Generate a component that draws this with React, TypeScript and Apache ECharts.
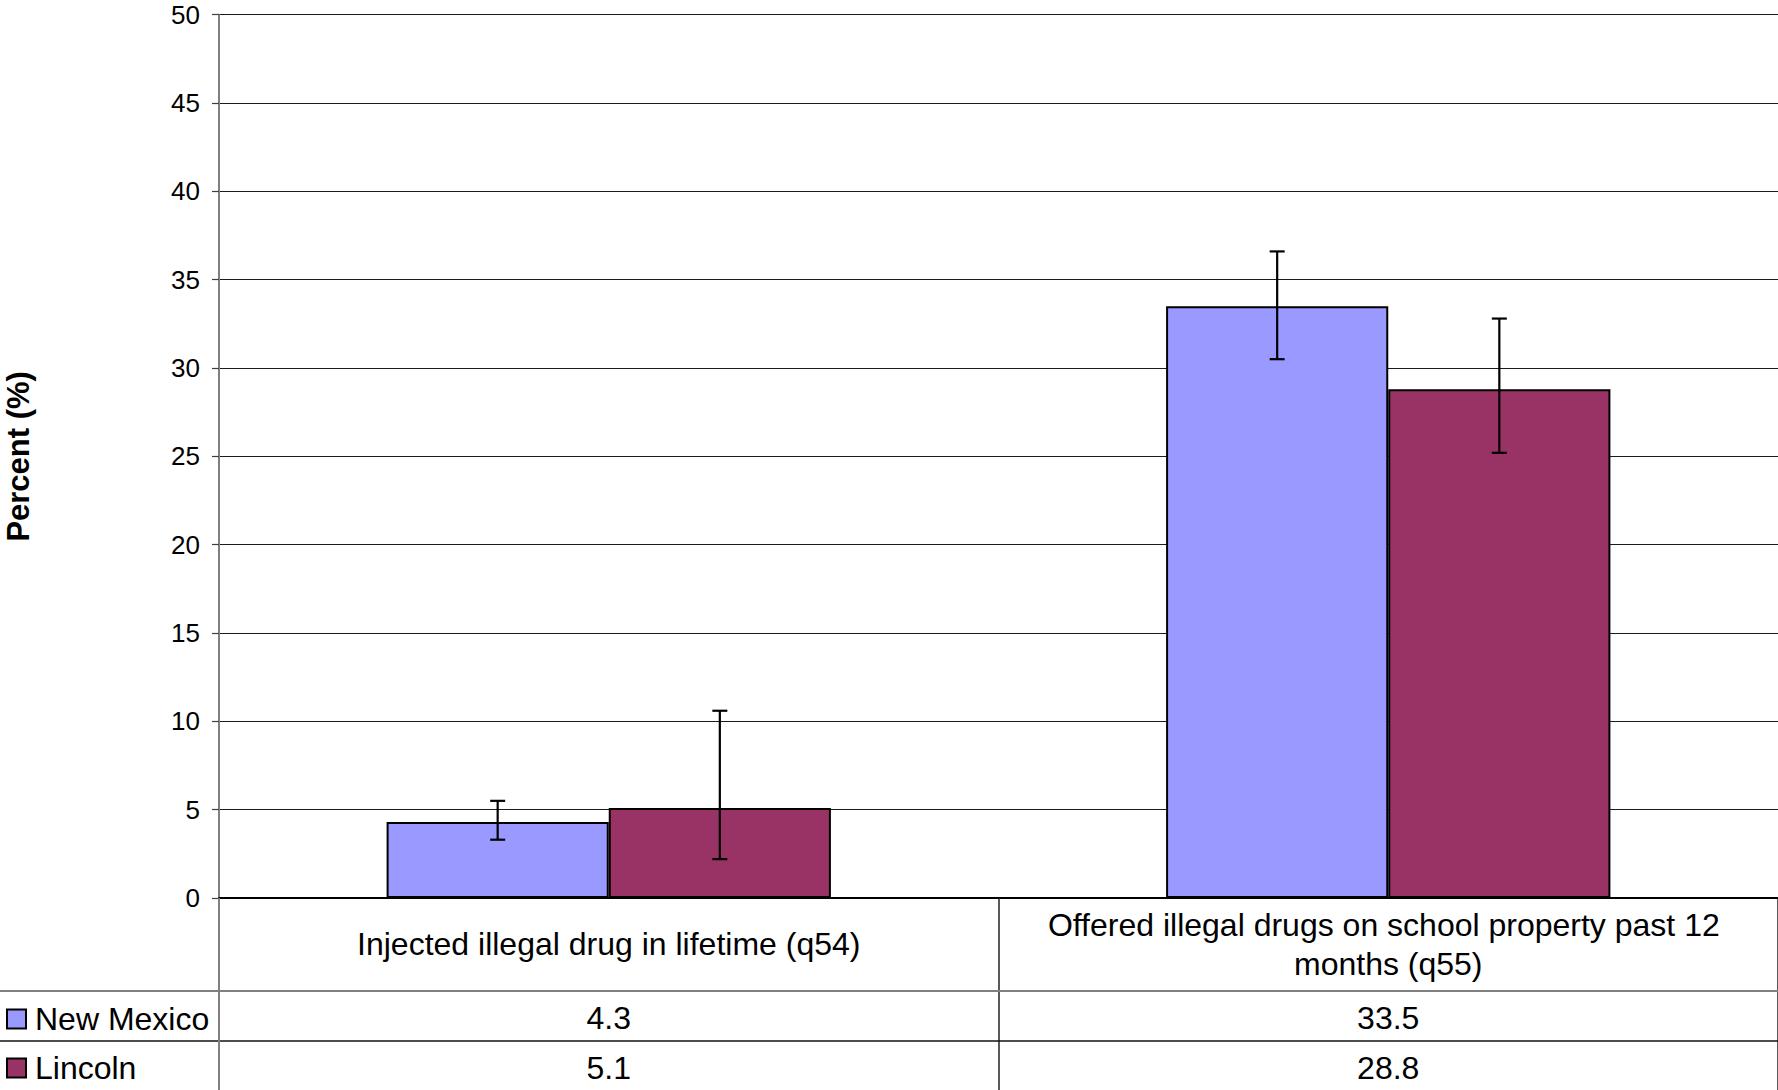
import React, { useEffect, useRef } from "react";
import * as echarts from "echarts";

const categories = [
  "Injected illegal drug in lifetime (q54)",
  "Offered illegal drugs on school property past 12 months (q55)",
];
const seriesNames = ["New Mexico", "Lincoln"];
const newMexico = [4.3, 33.5];
const lincoln = [5.1, 28.8];
const newMexicoLow = [3.3, 30.5];
const newMexicoHigh = [5.5, 36.6];
const lincolnLow = [2.2, 25.2];
const lincolnHigh = [10.6, 32.8];
const yTicks = { min: 0, max: 50, interval: 5 };

const W = 1778;
const H = 1090;
const GRID_LEFT = 219;
const GRID_TOP = 14.7;
const GRID_BOTTOM = 192; // axis at y = 898
const AXIS_Y = H - GRID_BOTTOM;
const FONT = "'Liberation Sans', Arial, sans-serif";
const TABLE_FONT = 32;
const BAR_FRAC = 0.285;

function errorSeries(name: string, lows: number[], highs: number[], sign: number) {
  return {
    type: "custom",
    name: name + " CI",
    z: 10,
    data: lows.map((lo, i) => [i, lo, highs[i]]),
    encode: { x: 0, y: [1, 2] },
    renderItem: (params: any, api: any) => {
      const xi = api.value(0);
      const lo = api.value(1);
      const hi = api.value(2);
      const catW = api.size([1, 0])[0];
      const cx = api.coord([xi, 0])[0] + (sign * catW * BAR_FRAC) / 2;
      const yLo = api.coord([xi, lo])[1];
      const yHi = api.coord([xi, hi])[1];
      const cap = 7.5;
      const style = { stroke: "#000", lineWidth: 2.2 };
      return {
        type: "group",
        children: [
          { type: "line", shape: { x1: cx, y1: yLo, x2: cx, y2: yHi }, style },
          { type: "line", shape: { x1: cx - cap, y1: yHi, x2: cx + cap, y2: yHi }, style },
          { type: "line", shape: { x1: cx - cap, y1: yLo, x2: cx + cap, y2: yLo }, style },
        ],
      };
    },
  };
}

export default function App() {
  const ref = useRef<HTMLDivElement>(null);
  useEffect(() => {
    if (!ref.current) return;
    const chart = echarts.init(ref.current, null, { renderer: "svg" });
    const valueAxis = (data: number[], offset: number) => ({
      type: "category",
      data: data.map((v) => v.toFixed(1)),
      position: "bottom",
      offset,
      axisLine: { show: false },
      axisTick: { show: false },
      axisLabel: {
        interval: 0,
        hideOverlap: false,
        margin: 0,
        verticalAlign: "middle",
        fontSize: TABLE_FONT,
        fontFamily: FONT,
        color: "#000",
      },
    });
    const legendBase = {
      left: 6,
      orient: "vertical",
      padding: 0,
      itemWidth: 19,
      itemHeight: 19,
      icon: "rect",
      selectedMode: false,
      textStyle: { fontSize: TABLE_FONT, fontFamily: FONT, color: "#000", padding: [0, 0, 0, 4] },
    };
    chart.setOption({
      animation: false,
      backgroundColor: "#fff",
      grid: {
        left: GRID_LEFT,
        right: 0,
        top: GRID_TOP,
        bottom: GRID_BOTTOM,
        containLabel: false,
        outerBoundsMode: "none",
      },
      legend: [
        { ...legendBase, data: [seriesNames[0]], top: 1003 },
        { ...legendBase, data: [seriesNames[1]], top: 1052 },
      ],
      xAxis: [
        {
          type: "category",
          data: categories,
          position: "bottom",
          axisLine: { show: true, lineStyle: { color: "#000", width: 2 } },
          axisTick: { show: true, length: GRID_BOTTOM, lineStyle: { color: "#222", width: 1.5 } },
          axisLabel: {
            interval: 0,
            hideOverlap: false,
            margin: 46,
            verticalAlign: "middle",
            fontSize: TABLE_FONT,
            lineHeight: 39,
            fontFamily: FONT,
            color: "#000",
            width: 720,
            overflow: "break",
            align: "center",
          },
        },
        valueAxis(newMexico, 120),
        valueAxis(lincoln, 169.5),
      ],
      yAxis: {
        type: "value",
        min: yTicks.min,
        max: yTicks.max,
        interval: yTicks.interval,
        name: "Percent (%)",
        nameLocation: "middle",
        nameGap: 185,
        nameTextStyle: { fontSize: 31, fontWeight: "bold", fontFamily: FONT, color: "#000" },
        axisLine: { show: true, lineStyle: { color: "#808080", width: 2 } },
        axisTick: { show: true, length: 7, lineStyle: { color: "#404040", width: 1.2 } },
        axisLabel: { margin: 19, fontSize: 26, fontFamily: FONT, color: "#000" },
        splitLine: { show: true, lineStyle: { color: "#1a1a1a", width: 1.2 } },
      },
      series: [
        {
          type: "bar",
          name: seriesNames[0],
          data: newMexico,
          barGap: "0%",
          barCategoryGap: "43%",
          itemStyle: { color: "#9999FF", borderColor: "#000", borderWidth: 2 },
        },
        {
          type: "bar",
          name: seriesNames[1],
          data: lincoln,
          barGap: "0%",
          barCategoryGap: "43%",
          itemStyle: { color: "#993366", borderColor: "#000", borderWidth: 2 },
        },
        errorSeries(seriesNames[0], newMexicoLow, newMexicoHigh, -1),
        errorSeries(seriesNames[1], lincolnLow, lincolnHigh, 1),
      ],
      graphic: [
        {
          type: "line",
          z: 100,
          shape: { x1: 0, y1: 991, x2: W, y2: 991 },
          style: { stroke: "#808080", lineWidth: 2 },
        },
        {
          type: "line",
          z: 100,
          shape: { x1: 0, y1: 1041, x2: W, y2: 1041 },
          style: { stroke: "#111", lineWidth: 1.5 },
        },
        {
          type: "line",
          z: 100,
          shape: { x1: GRID_LEFT, y1: AXIS_Y, x2: GRID_LEFT, y2: H },
          style: { stroke: "#808080", lineWidth: 2 },
        },
      ],
    });
    return () => chart.dispose();
  }, []);
  return (
    <div
      ref={ref}
      style={{ position: "absolute", left: 0, top: 0, width: W, height: H, background: "#fff" }}
    />
  );
}
